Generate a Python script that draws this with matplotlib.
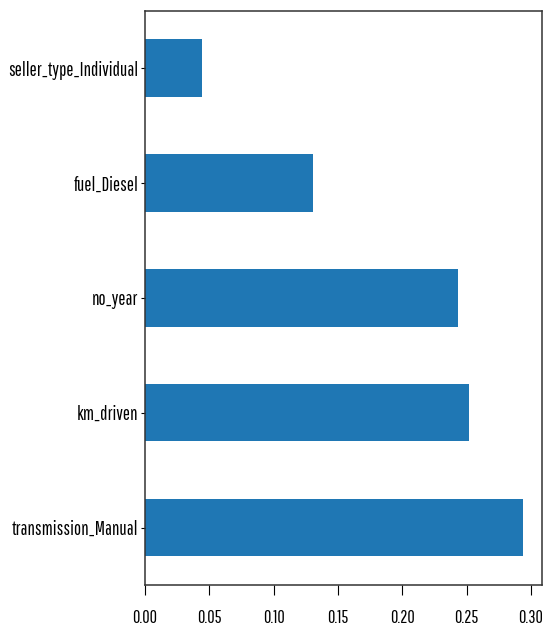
import matplotlib
matplotlib.use("Agg")
import matplotlib.pyplot as plt
import numpy as np

# feature importances, drawn bottom to top
features = ['transmission_Manual', 'km_driven', 'no_year', 'fuel_Diesel', 'seller_type_Individual']
importance = [0.2937, 0.2520, 0.2434, 0.1306, 0.0443]
xticks = [0.00, 0.05, 0.10, 0.15, 0.20, 0.25, 0.30]

plt.rcParams['font.family'] = ['Pathway Gothic One', 'DejaVu Sans']

fig = plt.figure(figsize=(5.44, 6.32), dpi=100)
ax = fig.add_axes([0.2665, 0.0744, 0.7293, 0.9087])

y = np.arange(len(features))
ax.barh(y, importance, height=0.5, color='#1f77b4')

ax.set_ylim(-0.5, len(features) - 0.5)
ax.set_xlim(0, 0.3083)
ax.set_yticks(y)
ax.set_yticklabels(features, fontsize=13.6)
ax.set_xticks(xticks)
ax.set_xticklabels(['%.2f' % t for t in xticks], fontsize=13)
ax.tick_params(axis='x', length=7, pad=11)
ax.tick_params(axis='y', length=3, pad=2)

for s in ax.spines.values():
    s.set_linewidth(1.1)
    s.set_color('#333333')

fig.savefig('out.png', dpi=100)
